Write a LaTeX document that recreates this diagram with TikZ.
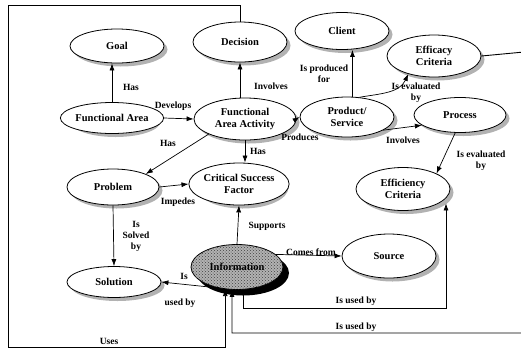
\documentclass[tikz,border=0pt]{standalone}
\usepackage{fontspec}
\setmainfont{Liberation Serif}
\usetikzlibrary{shapes.geometric,arrows.meta,patterns}

\begin{document}
\begin{tikzpicture}[x=1pt, y=-1pt,
    concept/.style={ellipse, draw, line width=0.8pt, fill=white, inner sep=0pt,
        align=center, font=\bfseries\fontsize{10.5}{11.5}\selectfont},
    keynode/.style={concept, fill=gray!60,
        postaction={pattern=crosshatch dots, pattern color=black!75}},
    rel/.style={-{Latex[length=7pt,width=5pt]}, line width=0.7pt},
    frame/.style={rel, line width=0.9pt},
    lbl/.style={font=\bfseries\fontsize{9.5}{11}\selectfont, inner sep=1pt, align=center}]
    \useasboundingbox (0,0) rectangle (521,354);

    % Concepts, each with its grey shadow
    \foreach \nm/\px/\py/\ew/\eh/\txt in {
        goal/117/46/94/34/{Goal},
        dec/240/42/94/40/{Decision},
        client/342/31/94/37/{Client},
        eff/434/56/94/42/{Efficacy\\Criteria},
        fa/112/118/90/31/{Functional Area},
        faa/245/119/102/42/{Functional\\Area Activity},
        ps/347/117/94/40/{Product/\\Service},
        proc/460/115/92/35/{Process},
        effi/403/189/94/43/{Efficiency\\Criteria},
        prob/113/187/92/36/{Problem},
        csf/239/184/92/42/{Critical Success\\Factor},
        sol/114/282/94/31/{Solution},
        src/389/256/94/44/{Source}}
    {
        \fill[gray!60] (\px+3.5,\py+3.5) ellipse ({\ew*0.5pt} and {\eh*0.5pt});
        \node[concept, minimum width=\ew pt, minimum height=\eh pt] (\nm) at (\px,\py) {\txt};
    }

    % Information, with its black shadow
    \fill[black] (243,273) ellipse (46pt and 22.5pt);
    \node[keynode, minimum width=92pt, minimum height=45pt] (info) at (237,267) {Information};

    % Corners of the long lines
    \coordinate (topL) at (8,5);
    \coordinate (botL) at (8,347);
    \coordinate (rgtT) at (524,52);
    \coordinate (rgtB) at (524,333);
    \coordinate (useA) at (446,308);

    % Relations
    \draw[rel] (fa.north) -- (fa.north |- goal.south);
    \draw[rel] (fa.east) -- (faa.west);
    \draw[rel] (faa.north -| dec) -- (dec.south);
    \draw[rel] (faa.south west) -- (prob.north east);
    \draw[rel] (faa.south) -- (faa.south |- csf.north);
    \draw[rel] (faa.east) -- (ps.west);
    \draw[rel] (ps.75) -- (ps.75 |- client.south);
    \draw[rel] (ps.58) to[out=10, in=-115] (eff.215);
    \draw[rel] (ps.340) -- (proc.195);
    \draw[rel] (proc.255) -- (effi.north east);
    \draw[rel] (prob.east) -- (csf.west);
    \draw[rel] (prob.south) -- (sol.north);
    \draw[rel] (info.north) -- (csf.south);
    \draw[rel] (info.18) -- (src.west);
    \draw[rel] (info.228) -- (sol.east);
    \draw[rel] ([xshift=6pt]info.south) |- (useA) -- (effi.-22 -| useA);
    \draw[frame] (eff.east) -- (rgtT) -- (rgtB) -| ([xshift=-5pt]info.south);
    \draw[frame] (dec.north) |- (topL) -- (botL) -| (info.242);

    % Labels
    \node[lbl] (lhasgoal) at (131,87) {Has};
    \node[lbl] (ldev) at (173,106) {Develops};
    \node[lbl] (linvdec) at (271,86) {Involves};
    \node[lbl] (lhasprob) at (168,143) {Has};
    \node[lbl] (lhascsf) at (258,151) {Has};
    \node[lbl] (lprod) at (300,137) {Produces};
    \node[lbl] (lprodfor) at (324,74) {Is produced\\for};
    \node[lbl] (levaleff) at (416,93) {Is evaluated\\by};
    \node[lbl] (linvproc) at (403,140) {Involves};
    \node[lbl] (levaleffi) at (481,161) {Is evaluated\\by};
    \node[lbl] (limp) at (178,202) {Impedes};
    \node[lbl] (lsolved) at (136,236) {Is\\Solved\\by};
    \node[lbl] (lsup) at (267,226) {Supports};
    \node[lbl] (lcomes) at (311,252) {Comes from};
    \node[lbl] (lis) at (184,276) {Is};
    \node[lbl] (lusedby) at (180,303) {used by};
    \node[lbl] (lusedeffi) at (356,301) {Is used by};
    \node[lbl] (lusedeff) at (356,327) {Is used by};
    \node[lbl] (luses) at (109,341) {Uses};
\end{tikzpicture}
\end{document}
